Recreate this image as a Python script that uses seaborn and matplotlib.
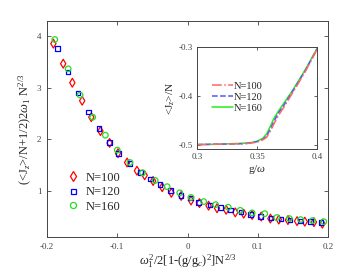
import numpy as np
import pandas as pd
import matplotlib
matplotlib.use("Agg")
import matplotlib.pyplot as plt
import seaborn as sns
from matplotlib.lines import Line2D

# ---- main scaled data ----
x100 = [-0.191,-0.177,-0.164,-0.150,-0.137,-0.124,-0.111,-0.099,-0.086,-0.072,-0.061,-0.049,-0.036,-0.023,-0.009,0.005,0.017,0.030,0.042,0.055,0.068,0.080,0.092,0.105,0.118,0.130,0.143,0.156,0.167,0.180,0.192]
y100 = [3.86,3.47,3.10,2.75,2.43,2.16,1.93,1.73,1.55,1.39,1.30,1.19,1.07,0.96,0.90,0.81,0.76,0.71,0.66,0.63,0.58,0.555,0.53,0.50,0.46,0.44,0.43,0.41,0.40,0.39,0.36]
x120 = [-0.185,-0.170,-0.156,-0.141,-0.126,-0.111,-0.098,-0.082,-0.067,-0.053,-0.039,-0.024,-0.009,0.004,0.016,0.032,0.047,0.061,0.076,0.090,0.104,0.119,0.133,0.146,0.161,0.175,0.190]
y120 = [3.76,3.31,2.90,2.53,2.21,1.94,1.73,1.53,1.35,1.23,1.12,1.00,0.91,0.86,0.77,0.72,0.67,0.63,0.59,0.54,0.50,0.47,0.45,0.43,0.41,0.40,0.38]
x160 = [-0.189,-0.170,-0.153,-0.135,-0.117,-0.100,-0.082,-0.064,-0.046,-0.029,-0.011,0.005,0.023,0.040,0.058,0.075,0.092,0.110,0.127,0.145,0.161,0.178,0.194]
y160 = [3.94,3.37,2.86,2.43,2.08,1.79,1.55,1.35,1.20,1.08,0.96,0.87,0.79,0.73,0.68,0.62,0.57,0.555,0.48,0.46,0.44,0.42,0.40]

# ---- inset data ----
g_in = [0.30, 0.32, 0.34, 0.345, 0.35, 0.355, 0.358, 0.361, 0.364, 0.368, 0.372, 0.38, 0.39, 0.40]
jz100 = [-0.499,-0.498,-0.497,-0.496,-0.494,-0.489,-0.484,-0.472,-0.457,-0.439,-0.424,-0.392,-0.351,-0.305]
jz120 = [-0.499,-0.498,-0.497,-0.495,-0.493,-0.488,-0.481,-0.468,-0.452,-0.434,-0.420,-0.389,-0.349,-0.304]
jz160 = [-0.499,-0.498,-0.496,-0.495,-0.492,-0.486,-0.477,-0.462,-0.446,-0.430,-0.416,-0.387,-0.347,-0.303]

labels = ["N=100", "N=120", "N=160"]

sns.set_style("ticks")
plt.rcParams["font.family"] = ["Liberation Serif", "DejaVu Serif"]
plt.rcParams["mathtext.fontset"] = "custom"
plt.rcParams["mathtext.rm"] = "Liberation Serif"
plt.rcParams["mathtext.it"] = "Liberation Serif:italic"
plt.rcParams["mathtext.bf"] = "Liberation Serif:bold"
plt.rcParams["xtick.direction"] = "in"
plt.rcParams["ytick.direction"] = "in"
axc = "#444444"

fig = plt.figure(figsize=(3.62, 2.76), dpi=100)
ax = fig.add_axes([0.130, 0.141, 0.776, 0.783])

df = pd.concat([
    pd.DataFrame({"x": x100, "y": y100, "N": labels[0]}),
    pd.DataFrame({"x": x120, "y": y120, "N": labels[1]}),
    pd.DataFrame({"x": x160, "y": y160, "N": labels[2]}),
])
cols = {"N=100": "#ff0000", "N=120": "#0000ff", "N=160": "#22dd22"}
marks = {"N=100": "d", "N=120": "s", "N=160": "o"}
sizes = {"N=100": 20, "N=120": 11, "N=160": 16}
for lab in labels:
    sub = df[df["N"] == lab]
    sns.scatterplot(data=sub, x="x", y="y", ax=ax, marker=marks[lab],
                    s=sizes[lab], facecolor="none", edgecolor=cols[lab],
                    linewidth=0.9, label=lab, legend=False)

ax.set_xlim(-0.2, 0.2)
ax.set_ylim(0.1, 4.3)
ax.set_xticks([-0.2, -0.1, 0, 0.1, 0.2])
ax.set_xticklabels(["-0.2", "-0.1", "0", "0.1", "0.2"])
ax.set_yticks([1, 2, 3, 4])
ax.tick_params(labelsize=6.5, colors=axc, length=3, width=0.6, top=True, right=True, pad=4)
for s in ax.spines.values():
    s.set_visible(True)
    s.set_color(axc)
    s.set_linewidth(0.7)
ax.set_xlabel(r"$\omega_1^2$/2[1-(g/g$_c$)$^2$]N$^{2/3}$", fontsize=9, labelpad=1)
ax.set_ylabel(r"(<J$_z$>/N+1/2)2$\omega_1$ N$^{2/3}$", fontsize=9, labelpad=2)

msz = {"N=100": 5.0, "N=120": 3.6, "N=160": 4.4}
handles = [Line2D([], [], ls="none", marker=marks[l], markerfacecolor="none",
                  markeredgecolor=cols[l], markersize=msz[l], markeredgewidth=0.9) for l in labels]
ax.legend(handles, labels, loc="lower left", bbox_to_anchor=(0.03, 0.06), frameon=False,
          fontsize=9, handlelength=1.0, handletextpad=0.5, labelspacing=0.2)

# ---- inset ----
ai = fig.add_axes([0.544, 0.460, 0.332, 0.370])
dfi = pd.concat([
    pd.DataFrame({"g": g_in, "jz": jz100, "N": labels[0]}),
    pd.DataFrame({"g": g_in, "jz": jz120, "N": labels[1]}),
    pd.DataFrame({"g": g_in, "jz": jz160, "N": labels[2]}),
])
lcols = {"N=100": "#ff6666", "N=120": "#5555ff", "N=160": "#22ee22"}
lstyles = {"N=100": "-.", "N=120": "--", "N=160": "-"}
order = ["N=160", "N=120", "N=100"]
for lab in order:
    sub = dfi[dfi["N"] == lab]
    sns.lineplot(data=sub, x="g", y="jz", ax=ai, color=lcols[lab],
                 linestyle=lstyles[lab], linewidth=1.1, label=lab, legend=False)
ai.set_xlim(0.3, 0.4)
ai.set_ylim(-0.508, -0.3)
ai.set_xticks([0.3, 0.35, 0.4])
ai.set_xticklabels(["0.3", "0.35", "0.4"])
ai.set_yticks([-0.5, -0.4, -0.3])
ai.set_yticklabels(["-0.5", "-0.4", "-0.3"])
ai.tick_params(labelsize=6.5, colors=axc, length=2.5, width=0.6, top=True, right=True, pad=3)
for s in ai.spines.values():
    s.set_visible(True)
    s.set_color(axc)
    s.set_linewidth(0.7)
ai.set_xlabel(r"g/$\omega$", fontsize=8, labelpad=1)
ai.set_ylabel(r"<J$_z$>/N", fontsize=8, labelpad=1)
ihandles = [Line2D([], [], color=lcols[l], linestyle=lstyles[l], linewidth=1.1) for l in labels]
ai.legend(ihandles, labels, loc="upper left", bbox_to_anchor=(0.05, 0.75), frameon=False,
          fontsize=7.5, handlelength=2.0, handletextpad=0.1, labelspacing=0.15)

fig.savefig("out.png", dpi=100)
